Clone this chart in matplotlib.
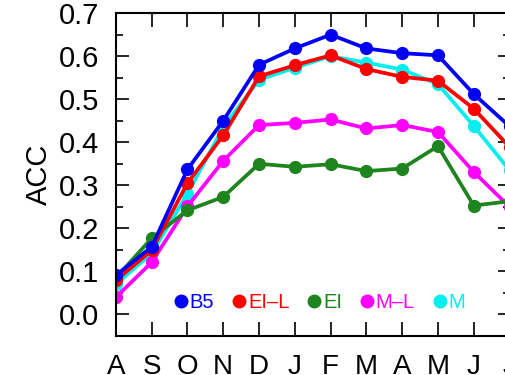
import matplotlib
matplotlib.use("Agg")
import matplotlib.pyplot as plt
from matplotlib.ticker import MultipleLocator

plt.rcParams['font.family'] = ['Liberation Sans', 'DejaVu Sans']

months = ["A", "S", "O", "N", "D", "J", "F", "M", "A", "M", "J", "J"]

b5 = [0.091, 0.157, 0.337, 0.450, 0.580, 0.618, 0.650, 0.618, 0.607, 0.602, 0.512, 0.437]
ei_l = [0.079, 0.149, 0.305, 0.416, 0.553, 0.579, 0.602, 0.570, 0.552, 0.543, 0.478, 0.389]
ei = [0.085, 0.177, 0.242, 0.273, 0.350, 0.343, 0.349, 0.333, 0.339, 0.391, 0.253, 0.263]
m_l = [0.040, 0.121, 0.251, 0.357, 0.440, 0.445, 0.453, 0.432, 0.440, 0.424, 0.331, 0.250]
m = [0.070, 0.142, 0.280, 0.435, 0.545, 0.573, 0.600, 0.585, 0.569, 0.535, 0.438, 0.335]

x = list(range(len(months)))

fig = plt.figure(figsize=(5.06, 3.75), dpi=100)
ax = fig.add_axes([0.229, 0.104, 0.778, 0.861])

# drawing order: cyan at bottom, blue on top
styles = dict(lw=2.7, marker="o", ms=8.5)
l_m, = ax.plot(x, m, color="#00f0f0", label="M", **styles)
l_ml, = ax.plot(x, m_l, color="#ff00ff", label="M\u2013L", **styles)
l_ei, = ax.plot(x, ei, color="#1e841e", label="EI", **styles)
l_eil, = ax.plot(x, ei_l, color="#ff0000", label="EI\u2013L", **styles)
l_b5, = ax.plot(x, b5, color="#0000f5", label="B5", **styles)

ax.set_xlim(0, 11)
ax.set_ylim(-0.05, 0.7)
ax.set_xticks(x)
ax.set_xticklabels(months)
ax.yaxis.set_major_locator(MultipleLocator(0.1))
ax.yaxis.set_minor_locator(MultipleLocator(0.05))
ax.set_yticks([0.0, 0.1, 0.2, 0.3, 0.4, 0.5, 0.6, 0.7])
ax.set_yticklabels(["0.0", "0.1", "0.2", "0.3", "0.4", "0.5", "0.6", "0.7"])
ax.set_ylabel("ACC", fontsize=21, labelpad=4)

ax.tick_params(axis="y", which="major", direction="in", length=9, width=1.2,
               labelsize=21, pad=12, right=True)
ax.tick_params(axis="y", which="minor", direction="in", length=5, width=1.2, right=True)
ax.tick_params(axis="x", which="major", direction="in", length=10, width=1.2,
               labelsize=20, pad=13, top=True)
for s in ax.spines.values():
    s.set_linewidth(1.5)

handles = [l_b5, l_eil, l_ei, l_ml, l_m]
leg = ax.legend(handles=handles, labels=[h.get_label() for h in handles],
                loc="center left", bbox_to_anchor=(0.151, 0.105), ncol=5,
                frameon=False, fontsize=14.5, handlelength=0.6, handletextpad=0.12,
                columnspacing=0.95, borderaxespad=0, borderpad=0)
for h in leg.legend_handles:
    h.set_linestyle("none")
    h.set_markersize(9)
for t, h in zip(leg.get_texts(), handles):
    t.set_color(h.get_color())

fig.savefig("out.png", dpi=100)
